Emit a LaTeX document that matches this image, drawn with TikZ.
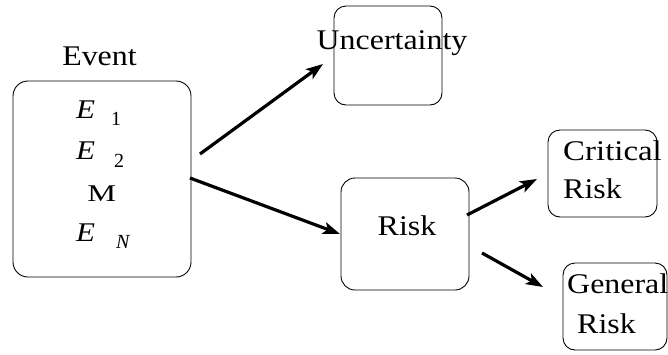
\documentclass[tikz,border=0pt]{standalone}
\usepackage{fontspec}
\setmainfont{Liberation Serif}
\usetikzlibrary{arrows.meta}

\tikzset{
  box/.style={draw=black, line width=0.9pt, rounded corners=#1, inner sep=0pt},
  box/.default=13pt,
  lbl/.style={inner sep=0pt, font=\fontsize{28.5}{30}\selectfont, xscale=1.12, transform shape},
  evar/.style={inner sep=0pt, font=\fontsize{27}{28}\selectfont\itshape, xscale=1.15, transform shape},
  esub/.style={inner sep=0pt, font=\fontsize{20}{21}\selectfont},
  arr/.style={line width=3.2pt, -{Stealth[length=17pt,width=12pt,inset=4pt]}},
}

\begin{document}
\begin{tikzpicture}[x=1pt, y=-1pt]
  \useasboundingbox (0,0) rectangle (668,354);

  % boxes
  \node[box=15pt, minimum width=178pt, minimum height=196pt] (ev) at (102,179) {};
  \node[box=12pt, minimum width=108pt, minimum height=99pt]  (unc) at (388,55.5) {};
  \node[box=14pt, minimum width=128pt, minimum height=112pt] (risk) at (405,234) {};
  \node[box=12pt, minimum width=109pt, minimum height=87pt]  (crit) at (602.5,173.5) {};
  \node[box=12pt, minimum width=104pt, minimum height=87pt]  (gen) at (615,306.5) {};

  % labels
  \node[lbl, anchor=base] (evlbl) at (99.5,65) {Event};
  \node[lbl, anchor=base] (unclbl) at (392,49.5) {Uncertainty};
  \node[lbl, anchor=base] (risklbl) at (407,235) {Risk};
  \node[lbl, anchor=base west, xscale=1.03] (critlbl1) at (563,160) {Critical};
  \node[lbl, anchor=base west] (critlbl2) at (563,198) {Risk};
  \node[lbl, anchor=base west] (genlbl1) at (567,293) {General};
  \node[lbl, anchor=base west] (genlbl2) at (577,333) {Risk};

  % event list inside the first box
  \node[evar, anchor=base west] (e1) at (76,118) {E};
  \node[esub, anchor=base west] (e1s) at (111,125) {1};
  \node[evar, anchor=base west] (e2) at (76,159) {E};
  \node[esub, anchor=base west] (e2s) at (114,167) {2};
  \node[inner sep=0pt, font=\fontsize{24}{25}\selectfont, xscale=1.35, transform shape, anchor=base west] (dots) at (87,201) {M};
  \node[evar, anchor=base west] (en) at (76,241) {E};
  \node[esub, anchor=base west, font=\fontsize{20}{21}\selectfont\itshape] (ens) at (116,248) {N};

  % connector end points
  \coordinate (a1s) at (200,154);
  \coordinate (a1e) at (323,64);
  \coordinate (a2s) at (190,178);
  \coordinate (a2e) at (340,234);
  \coordinate (a3s) at (467,215);
  \coordinate (a3e) at (537,179);
  \coordinate (a4s) at (482,253);
  \coordinate (a4e) at (543,287);

  % connectors
  \draw[arr] (a1s) -- (a1e);
  \draw[arr] (a2s) -- (a2e);
  \draw[arr] (a3s) -- (a3e);
  \draw[arr] (a4s) -- (a4e);
\end{tikzpicture}
\end{document}
